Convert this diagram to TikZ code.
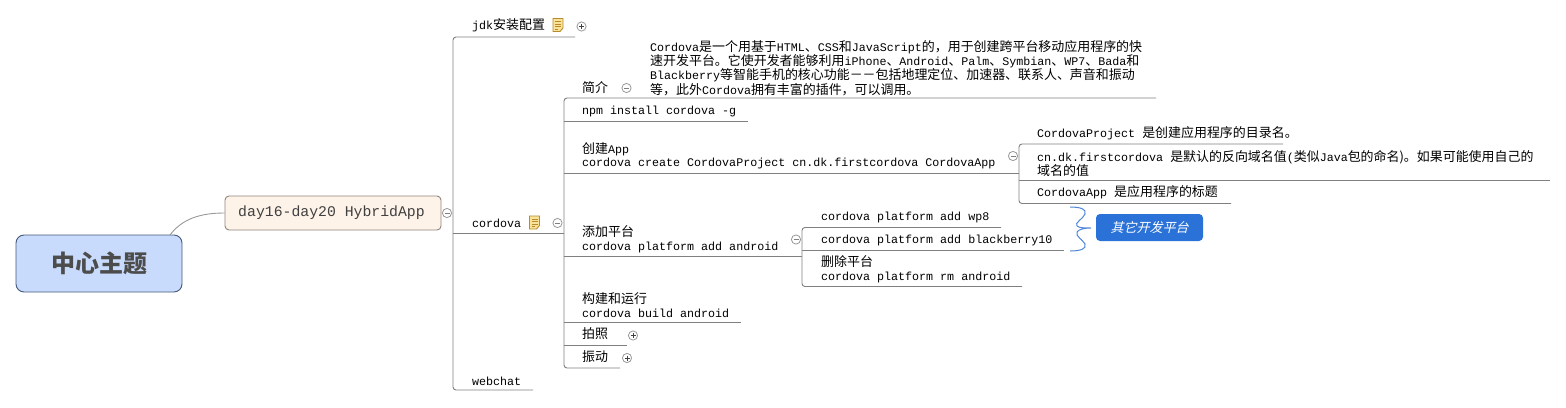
\documentclass[tikz,border=0pt]{standalone}
\usepackage{fontspec}
\setmainfont{Liberation Mono}
\newfontfamily\cjk[Scale=1.11]{Noto Sans CJK SC}
\newfontfamily\cjkslant[FakeSlant=0.25]{Noto Sans CJK SC}
\newfontfamily\cjkroot{Noto Sans CJK SC}
\newcommand{\Z}[1]{{\cjk #1}}
\definecolor{linegray}{HTML}{808080}
\definecolor{rootfill}{HTML}{C9DBFC}
\definecolor{rootedge}{HTML}{44597A}
\definecolor{dayfill}{HTML}{FEF3E9}
\definecolor{dayedge}{HTML}{8F857C}
\definecolor{bluebox}{HTML}{2B72D8}
\definecolor{bracecol}{HTML}{4F86D8}
\definecolor{notefill}{HTML}{F9E39A}
\definecolor{noteedge}{HTML}{B98A2A}
\tikzset{
  topic/.style={inner sep=0pt,anchor=west,align=left,font=\fontsize{11.67}{13.5}\selectfont},
  link/.style={draw=linegray,line width=0.9pt,rounded corners=3pt},
  collapse/.pic={\draw[draw=gray!80,fill=white,line width=0.8pt] (0,0) circle (4.6pt);
    \draw[draw=gray,line width=0.8pt] (-2.5,0) -- (2.5,0);},
  expand/.pic={\draw[draw=gray!80,fill=white,line width=0.8pt] (0,0) circle (4.6pt);
    \draw[draw=black!75,line width=0.8pt] (-2.5,0) -- (2.5,0) (0,-2.5) -- (0,2.5);},
  noteicon/.pic={\draw[draw=noteedge,fill=notefill,line width=0.9pt] (-5,-6.5) -- (5,-6.5) -- (5,3) -- (2,6.5) -- (-5,6.5) -- cycle;
    \draw[draw=noteedge,line width=0.7pt] (-3,-3.5) -- (3,-3.5) (-3,-1) -- (3,-1) (-3,1.5) -- (3,1.5) (-3,4) -- (0,4);}
}
\begin{document}
\begin{tikzpicture}[x=1pt,y=-1pt]
\useasboundingbox (0,0) rectangle (1566,407);
\fill[white] (0,0) rectangle (1566,407);

% central nodes
\node[draw=rootedge,fill=rootfill,rounded corners=8pt,line width=0.9pt,minimum width=166pt,minimum height=57pt,inner sep=0pt,text=black!70,font=\fontsize{24}{26}\selectfont\bfseries\cjkroot] (root) at (99,263.5) {中心主题};
\node[draw=dayedge,fill=dayfill,rounded corners=4pt,line width=0.9pt,minimum width=216pt,minimum height=34pt,inner sep=0pt,text=black!75,font=\fontsize{14.8}{16}\selectfont] (day) at (333,213) {\hspace{-3pt}day16-day20 HybridApp};
\coordinate (rootOut) at (170,235);
\draw[draw=gray!80,line width=0.9pt] (rootOut) .. controls (182,219) and (200,213) .. (day.west);

% level one
\node[topic] (jdk) at (472,25.5) {jdk\Z{安装配置}};
\node[topic] (cordova) at (472,223) {cordova};
\node[topic] (webchat) at (472,381) {webchat};
\coordinate (jdkL) at (453,37); \coordinate (jdkR) at (575,37);
\coordinate (corL) at (453,233); \coordinate (corR) at (564,233);
\coordinate (webL) at (453,390); \coordinate (webR) at (533,390);
\draw[link] (jdkR) -- (jdkL) -- (webL) -- (webR);
\draw[link,rounded corners=0pt] (corL) -- (corR);

% level two
\node[topic] (intro) at (582,87.5) {\Z{简介}};
\node[topic,font=\fontsize{11.67}{13}\selectfont] (introText) at (650,68) {Cordova\Z{是一个用基于}HTML\Z{、}CSS\Z{和}JavaScript\Z{的，用于创建跨平台移动应用程序的快}\\
\Z{速开发平台。它使开发者能够利用}iPhone\Z{、}Android\Z{、}Palm\Z{、}Symbian\Z{、}WP7\Z{、}Bada\Z{和}\\
Blackberry\Z{等智能手机的核心功能－－包括地理定位、加速器、联系人、声音和振动}\\
\Z{等，此外}Cordova\Z{拥有丰富的插件，可以调用。}};
\node[topic] (npm) at (582,111) {npm install cordova -g};
\node[topic] (create) at (582,156) {\Z{创建}App\\cordova create CordovaProject cn.dk.firstcordova CordovaApp};
\node[topic] (addp) at (582,239) {\Z{添加平台}\\cordova platform add android};
\node[topic] (build) at (582,305) {\Z{构建和运行}\\cordova build android};
\node[topic] (photo) at (582,334) {\Z{拍照}};
\node[topic] (vib) at (582,357) {\Z{振动}};
\coordinate (introL) at (564,98); \coordinate (introR) at (1156,98);
\coordinate (npmL) at (564,121); \coordinate (npmR) at (748,121);
\coordinate (createL) at (564,173); \coordinate (createR) at (1019,173);
\coordinate (addL) at (564,256); \coordinate (addR) at (802,256);
\coordinate (buildL) at (564,322); \coordinate (buildR) at (741,322);
\coordinate (photoL) at (564,345); \coordinate (photoR) at (627,345);
\coordinate (vibL) at (564,368); \coordinate (vibR) at (620,368);
\draw[link] (introR) -- (introL) -- (vibL) -- (vibR);
\draw[link] (npmL) -- (npmR);
\draw[link] (createL) -- (createR);
\draw[link] (addL) -- (addR);
\draw[link] (buildL) -- (buildR);
\draw[link] (photoL) -- (photoR);

% level three: create
\node[topic] (proj) at (1037,133) {CordovaProject \Z{是创建应用程序的目录名。}};
\node[topic] (pkg) at (1037,163.5) {cn.dk.firstcordova \Z{是默认的反向域名值}(\Z{类似}Java\Z{包的命名)。如果可能使用自己的}\\\Z{域名的值}};
\node[topic] (title) at (1037,192) {CordovaApp \Z{是应用程序的标题}};
\coordinate (projL) at (1019,144); \coordinate (projR) at (1283,144);
\coordinate (pkgL) at (1019,180.5); \coordinate (pkgR) at (1550,180.5);
\coordinate (titleL) at (1019,203.5); \coordinate (titleR) at (1231,203.5);
\draw[link] (projR) -- (projL) -- (titleL) -- (titleR);
\draw[link] (pkgL) -- (pkgR);

% level three: platform
\node[topic] (wp) at (821,217) {cordova platform add wp8};
\node[topic] (bb) at (821,240) {cordova platform add blackberry10};
\node[topic] (rm) at (821,269) {\Z{删除平台}\\cordova platform rm android};
\coordinate (wpL) at (802,227.5); \coordinate (wpR) at (1001,227.5);
\coordinate (bbL) at (802,250.5); \coordinate (bbR) at (1064,250.5);
\coordinate (rmL) at (802,286.5); \coordinate (rmR) at (1022,286.5);
\draw[link] (wpR) -- (wpL) -- (rmL) -- (rmR);
\draw[link] (bbL) -- (bbR);

% summary
\node[fill=bluebox,rounded corners=4pt,minimum width=107pt,minimum height=27pt,inner sep=0pt,text=white,font=\fontsize{13}{15}\selectfont\cjkslant] (summary) at (1149.5,227.5) {其它开发平台};
\coordinate (braceTop) at (1070,207);
\coordinate (braceBot) at (1070,251);
\coordinate (braceTip) at (1091,228);
\draw[draw=bracecol,line width=1pt] (braceTop) .. controls (1080,207) and (1087,209) .. (1085,214) .. controls (1083,219) and (1074,223) .. (1077,226) .. controls (1079,228) and (1085,228) .. (braceTip)
  (braceTip) .. controls (1085,228) and (1079,229) .. (1077,232) .. controls (1075,236) and (1083,240) .. (1085,244) .. controls (1087,249) and (1080,251) .. (braceBot);

% icons
\pic at (581.5,26.5) {expand};
\pic at (447,213) {collapse};
\pic at (557.5,223) {collapse};
\pic at (626.5,88) {collapse};
\pic at (1013,156) {collapse};
\pic at (796,239.5) {collapse};
\pic at (633,335.5) {expand};
\pic at (627,358) {expand};
\pic at (558,25) {noteicon};
\pic at (534.5,222.5) {noteicon};
\end{tikzpicture}
\end{document}
